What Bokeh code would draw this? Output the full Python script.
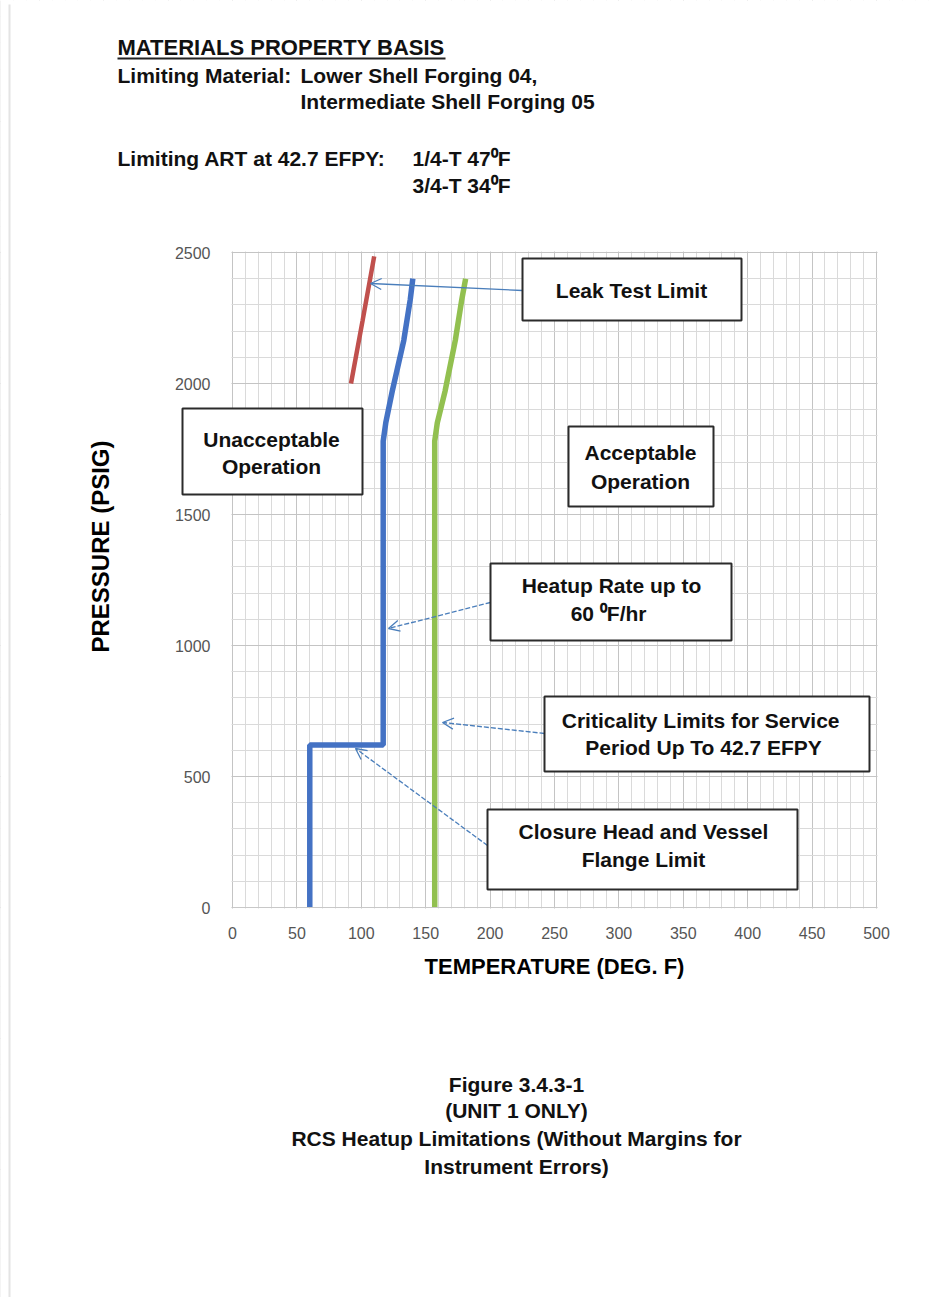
from bokeh.plotting import figure
from bokeh.models import (Range1d, SingleIntervalTicker, Label, BoxAnnotation,
                          Arrow, OpenHead)
from bokeh.embed import file_html
from bokeh.resources import INLINE

# ---------------- data ----------------
heatup_temp = [60, 60, 117, 117, 119, 124, 133, 138, 140]
heatup_pres = [0, 620, 620, 1780, 1850, 1970, 2165, 2320, 2400]

crit_temp = [157, 157, 159, 165, 173, 178, 181]
crit_pres = [0, 1780, 1850, 1970, 2165, 2320, 2400]

leak_temp = [92, 101, 110]
leak_pres = [2000, 2240, 2485]

x_ticks_interval = 50
y_ticks_interval = 500

# ---------------- layout (page pixels of the chart area) ----------------
FL, FR, FT, FB = 232, 876, 252, 907
XMAX, YMAX = 500, 2500
W, H = 930, 1297

def dx(px):
    return (px - FL) / (FR - FL) * XMAX

def dy(py):
    return (FB - py) / (FB - FT) * YMAX

# the frame covers the whole page so that nothing gets clipped
def sx(px):
    return px

def sy(py):
    return H - py

p = figure(width=W, height=H, min_border=0,
           x_range=Range1d(dx(0), dx(W)), y_range=Range1d(dy(H), dy(0)),
           output_backend="svg", toolbar_location=None)
p.outline_line_color = None
p.background_fill_color = "white"
p.border_fill_color = "white"

p.xaxis.ticker = SingleIntervalTicker(interval=x_ticks_interval, num_minor_ticks=5)
p.yaxis.ticker = SingleIntervalTicker(interval=y_ticks_interval, num_minor_ticks=5)
for ax in (p.xaxis[0], p.yaxis[0]):
    ax.fixed_location = 0
    ax.major_tick_line_color = None
    ax.minor_tick_line_color = None
    ax.major_label_text_font = "Liberation Sans"
    ax.major_label_text_font_size = "16px"
    ax.major_label_text_color = "#555555"
    ax.axis_label_text_font = "Liberation Sans"
    ax.axis_label_text_font_style = "bold"
    ax.axis_label_text_color = "#000000"
p.xaxis.bounds = (0, XMAX)
p.yaxis.bounds = (0, 2756)          # centres the axis title as in the original
p.yaxis.axis_line_color = None
p.xaxis.axis_line_color = "#c8c8c8"
p.xaxis.major_label_standoff = 13
p.yaxis.major_label_standoff = 16
p.xaxis.axis_label = "TEMPERATURE (DEG. F)"
p.yaxis.axis_label = "PRESSURE (PSIG)"
p.xaxis.axis_label_text_font_size = "22px"
p.yaxis.axis_label_text_font_size = "24px"
p.xaxis.axis_label_standoff = 12
p.yaxis.axis_label_standoff = 58

p.xgrid.bounds = (-300, 700)
p.ygrid.bounds = (-2000, 4000)
p.xgrid.grid_line_color = "#c4c4c4"
p.ygrid.grid_line_color = "#c4c4c4"
p.xgrid.minor_grid_line_color = "#dadada"
p.ygrid.minor_grid_line_color = "#dadada"

# white masks: keep the grid inside the chart area only
def mask(l, r, t, b):
    p.add_layout(BoxAnnotation(left=l, right=r, top=t, bottom=b,
                               left_units="screen", right_units="screen",
                               top_units="screen", bottom_units="screen",
                               fill_color="white", fill_alpha=1.0,
                               line_color=None, level="glyph"))

mask(sx(0), sx(FL - 1), sy(0), sy(H))
mask(sx(FR + 1), sx(W), sy(0), sy(H))
mask(sx(0), sx(W), sy(0), sy(FT - 1))
mask(sx(0), sx(W), sy(FB + 1), sy(H))

# ---------------- curves ----------------
p.line(leak_temp, leak_pres, line_color="#c0504d", line_width=4.5)
p.line(heatup_temp, heatup_pres, line_color="#4472c4", line_width=5.5)
p.line(crit_temp, crit_pres, line_color="#92c050", line_width=5.5)

# ---------------- boxes with text ----------------
FONT = "Liberation Sans"

def box(l, t, r, b, lines, cx, cys, size="21px"):
    p.add_layout(BoxAnnotation(left=sx(l), right=sx(r), top=sy(t), bottom=sy(b),
                               left_units="screen", right_units="screen",
                               top_units="screen", bottom_units="screen",
                               fill_color="white", fill_alpha=1.0,
                               line_color="#2b2b2b", line_alpha=1.0, line_width=2,
                               level="overlay"))
    for txt, cy in zip(lines, cys):
        p.add_layout(Label(x=sx(cx), y=sy(cy), x_units="screen", y_units="screen",
                           text=txt, text_align="center",
                           text_baseline="middle", text_font=FONT,
                           text_font_style="bold", text_font_size=size,
                           text_color="#111111", level="overlay"))

def arrow(x0, y0, x1, y1, dash="solid"):
    p.add_layout(Arrow(x_start=dx(x0), y_start=dy(y0), x_end=dx(x1), y_end=dy(y1),
                       line_color="#4a7ebb", line_width=1.3, line_dash=dash,
                       end=OpenHead(size=11, line_color="#4a7ebb", line_width=1.3)))

arrow(522, 290, 370, 283)
arrow(490, 602, 388, 628, "5 2")
arrow(544, 733, 442, 722, "5 2")
arrow(487, 845, 355, 748, "5 2")

box(522, 258, 741, 320, ["Leak Test Limit"], 631, [290])
box(182, 408, 362, 494, ["Unacceptable", "Operation"], 271, [439, 466])
box(568, 426, 713, 506, ["Acceptable", "Operation"], 640, [452, 481])
box(490, 563, 731, 640, ["Heatup Rate up to", "60  \u2070F/hr"], 611, [585, 613])
box(544, 696, 869, 771, ["Criticality  Limits  for Service", "Period Up To  42.7 EFPY"], 706, [720, 747])
box(487, 809, 797, 889, ["Closure Head and Vessel", "Flange Limit"], 643, [831, 859])

# ---------------- document text ----------------
def doc(px, py, txt, align="left", size="21px"):
    p.add_layout(Label(x=sx(px), y=sy(py), x_units="screen", y_units="screen",
                       text=txt, text_align=align,
                       text_baseline="middle", text_font=FONT,
                       text_font_style="bold", text_font_size=size,
                       text_color="#111111", level="overlay"))

doc(117, 47, "MATERIALS PROPERTY BASIS", size="22px")
p.add_layout(BoxAnnotation(left=sx(117), right=sx(445), top=sy(57), bottom=sy(59),
                           left_units="screen", right_units="screen",
                           top_units="screen", bottom_units="screen",
                           fill_color="#222222", fill_alpha=1.0, line_color=None,
                           level="overlay"))
doc(117, 75, "Limiting Material:")
doc(300, 75, "Lower Shell Forging 04,")
doc(300, 101, "Intermediate Shell Forging 05")
doc(117, 158, "Limiting ART at 42.7 EFPY:")
doc(412, 158, "1/4-T 47\u2070F")
doc(412, 185, "3/4-T 34\u2070F")

doc(516, 1084, "Figure 3.4.3-1", "center")
doc(516, 1110, "(UNIT 1 ONLY)", "center")
doc(516, 1138, "RCS Heatup Limitations (Without Margins for", "center")
doc(516, 1166, "Instrument Errors)", "center")

# faint page edge on the left
p.add_layout(BoxAnnotation(left=sx(8), right=sx(10), top=sy(4), bottom=sy(H),
                           left_units="screen", right_units="screen",
                           top_units="screen", bottom_units="screen",
                           fill_color="#e4e4e4", fill_alpha=1.0, line_color=None,
                           level="overlay"))

open("out.html", "w").write(file_html(p, INLINE))
